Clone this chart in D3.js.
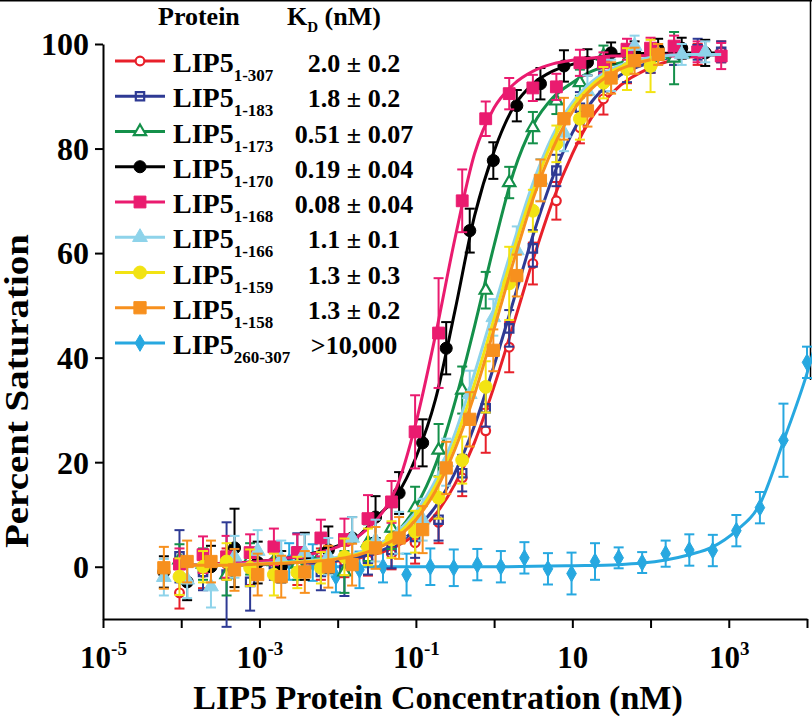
<!DOCTYPE html>
<html><head><meta charset="utf-8">
<script src="https://cdn.jsdelivr.net/npm/d3@7"></script>
<style>
html,body{margin:0;padding:0;background:#fff;}
svg{display:block;}
</style>
</head><body>
<svg id="c" width="812" height="721"></svg>
<script>
// ---------- DATA ----------
const yTicks = [0, 20, 40, 60, 80, 100];
const xTicks = [1e-5, 1e-4, 1e-3, 1e-2, 1e-1, 1, 10, 100, 1000, 10000];
const xTickLabels = [["10","-5"], null, ["10","-3"], null, ["10","-1"], null, ["10",""], null, ["10","3"], null];

// concentration grids (nM), 2-fold dilutions
const concA = [9.5e-5, 1.9e-4, 3.8e-4, 7.6e-4, 0.00153, 0.00305, 0.0061, 0.0122, 0.0244, 0.0488, 0.0977, 0.195, 0.391, 0.781, 1.56, 3.13, 6.25, 12.5, 25, 50, 100, 200, 400, 800];
const concB = [6.0e-5, 1.19e-4, 2.4e-4, 4.8e-4, 9.5e-4, 0.0019, 0.0038, 0.0076, 0.0153, 0.0305, 0.061, 0.122, 0.244, 0.488, 0.977, 1.95, 3.91, 7.81, 15.6, 31.3, 62.5, 125, 250, 500];
const concC = [0.0024, 0.0048, 0.0095, 0.019, 0.038, 0.076, 0.153, 0.305, 0.61, 1.22, 2.44, 4.88, 9.77, 19.5, 39.1, 78.1, 156, 313, 625, 1250, 2500, 5000, 10000];

const labels = ["1-307", "1-183", "1-173", "1-170", "1-168", "1-166", "1-159", "1-158", "260-307"];
const kdText = ["2.0 \u00b1 0.2", "1.8 \u00b1 0.2", "0.51 \u00b1 0.07", "0.19 \u00b1 0.04", "0.08 \u00b1 0.04", "1.1 \u00b1 0.1", "1.3 \u00b1 0.3", "1.3 \u00b1 0.2", ">10,000"];

// percent saturation values and error bars
const v1_307 = [-5.0, -1.1, 0.5, -0.5, 1.0, -0.5, 0.5, 1.0, 1.3, 2.5, 4.6, 8.5, 17.0, 26.0, 42.0, 58.0, 70.0, 84.0, 89.5, 95.0, 97.0, 98.0, 98.0, 98.5];
const e1_307 = [3, 3, 3, 3, 3, 3, 3, 3, 3, 3, 4, 4, 3.5, 4.2, 4.8, 4, 3.6, 3, 3, 2.5, 2.5, 2, 2, 2];
const v1_183 = [2.0, -1.0, -1.5, -2.9, 0.5, 2.9, -1.0, -0.6, 1.5, 3.2, 5.7, 9.0, 17.9, 30.3, 45.6, 60.9, 75.8, 87.8, 93.9, 95.2, 97.0, 98.0, 99.0, 98.5];
const e1_183 = [5, 3.5, 10, 5.5, 3, 3.5, 3.5, 5, 3, 3.5, 4, 4, 3.5, 3.5, 3.5, 3.5, 3, 3, 3, 2.5, 2.5, 2, 2, 2];
const v1_173 = [1.3, 0.5, -1.5, 1.5, 1.0, 0.5, 2.3, -1.0, 4.6, 7.4, 11.3, 22.3, 33.8, 52.9, 73.5, 84.0, 89.1, 92.6, 97.7, 96.8, 97.5, 97.3];
const e1_173 = [3, 3, 4, 3, 3, 3, 3, 4, 3.5, 4, 4, 5, 4.5, 3.5, 3, 3, 2.5, 2.5, 2, 2, 2.5, 5];
const v1_170 = [-1.0, -2.9, 0.0, 3.6, 0.8, 0.0, 2.0, 3.2, 5.5, 9.5, 14.1, 23.7, 41.8, 64.3, 77.7, 88.2, 92.4, 95.8, 96.5, 98.3, 98.5, 99.0, 99.2, 98.3];
const e1_170 = [3, 3.5, 4, 7.5, 4, 3, 4.5, 4.5, 4, 4, 4, 4.5, 5, 4.2, 3.5, 3, 3, 3, 2.5, 2, 2, 2, 2, 2.5];
const v1_168 = [0.5, 2.3, 1.9, 2.7, 3.8, 2.7, 5.5, 5.2, 9.2, 12.4, 25.8, 44.7, 70.0, 85.7, 90.5, 91.6, 91.8, 96.4, 96.4, 99.0, 99.2, 99.6, 98.5, 97.7];
const e1_168 = [3, 3.5, 4, 3.5, 3.5, 3.5, 3.5, 4, 4.5, 4, 7, 10.5, 6, 3.3, 3, 2.5, 2.5, 2.5, 2, 2, 2, 2, 2, 2.5];
const v1_166 = [-2.0, -2.5, -3.8, 1.9, 3.0, 1.5, 2.7, 2.0, 5.5, 5.0, 6.5, 9.0, 20.0, 33.0, 47.7, 60.5, 74.0, 83.0, 91.0, 94.0, 99.6, 98.0, 98.0, 98.5];
const e1_166 = [3.5, 3.5, 4, 4, 4, 3.5, 3.5, 3.5, 4, 4, 4, 4, 4.5, 4.5, 3.5, 4.6, 4, 3.5, 3, 3, 2, 2, 2, 2];
const v1_159 = [-1.9, 0.0, 1.0, -0.2, -1.5, -1.1, -0.2, 1.9, 3.8, 5.2, 6.7, 13.2, 20.4, 34.4, 54.2, 68.1, 80.9, 85.7, 92.6, 95.2, 95.8];
const e1_159 = [3.5, 3, 3.5, 3.5, 4, 3, 3, 3.5, 3.5, 3.5, 4, 4, 4.5, 4.9, 7, 4, 3.5, 4, 3, 4, 5];
const v1_158 = [-0.2, 1.0, 1.0, -0.6, -1.5, -1.9, -1.0, 0.0, 0.4, 3.6, 5.5, 7.1, 18.9, 28.2, 41.4, 55.7, 73.9, 85.7, 87.2, 93.5, 96.8, 98.0];
const e1_158 = [4, 4, 4, 4, 4, 4, 4, 4, 4, 4, 4, 4.5, 5, 5.2, 4, 4, 4, 4, 3, 3, 2.5, 2];
const v260_307 = [1.0, 0.8, -1.9, -0.6, 0.0, -1.5, 0.0, -0.2, 0.4, 0.0, 1.7, -0.4, -1.3, 1.0, 1.7, 0.8, 2.5, 3.2, 3.1, 6.9, 11.3, 24.2, 39.1];
const e260_307 = [3.5, 3.5, 3, 3.5, 3, 4, 3.5, 3.5, 3, 3, 3, 3, 4, 3.5, 2, 2, 2.5, 3, 3, 3, 3, 7, 3];

// fitted curves at these concentrations
const fitConc = [1e-4, 3.16e-4, 1e-3, 3.16e-3, 0.01, 0.0178, 0.0316, 0.0562, 0.1, 0.178, 0.316, 0.562, 1, 1.78, 3.16, 5.62, 10, 17.8, 31.6, 100, 316, 800];
const f1_307 = [0.2, 0.3, 0.4, 0.6, 1.1, 1.6, 2.5, 3.9, 6.3, 10.0, 15.8, 23.8, 34.5, 46.5, 58.8, 70.0, 79.0, 86.0, 90.5, 95.5, 97.5, 98.0];
const f1_183 = [0.2, 0.3, 0.4, 0.7, 1.2, 1.8, 2.8, 4.4, 7.2, 11.5, 18.0, 27.0, 38.5, 51.0, 63.5, 74.5, 83.0, 89.0, 92.8, 96.5, 97.8, 98.0];
const f1_173 = [0.3, 0.4, 0.6, 1.0, 1.6, 2.5, 4.0, 6.5, 11.5, 19.5, 31.5, 46.0, 61.5, 75.5, 84.5, 89.7, 92.6, 94.8, 96.0, 97.2, 97.5];
const f1_170 = [0.3, 0.6, 1.0, 2.0, 4.0, 5.7, 9.5, 13.5, 20.9, 32.0, 49.0, 67.1, 79.5, 88.0, 92.4, 94.8, 96.1, 97.1, 97.9, 98.2, 98.3, 98.3];
const f1_168 = [0.3, 0.6, 1.0, 2.0, 3.8, 5.7, 9.0, 15.0, 27.5, 44.3, 62.8, 79.0, 87.8, 92.3, 94.8, 96.2, 96.9, 97.3, 97.7, 97.8, 98.0, 98.0];
const f1_166 = [0.3, 0.4, 0.6, 1.0, 1.8, 2.6, 4.1, 6.5, 10.5, 16.5, 25.5, 37.0, 49.5, 62.0, 73.5, 82.5, 88.8, 92.8, 95.2, 97.4, 98.0, 98.0];
const f1_159 = [0.3, 0.3, 0.5, 0.9, 1.6, 2.4, 3.8, 6.0, 9.8, 15.5, 24.0, 35.0, 47.5, 60.5, 72.0, 81.5, 88.0, 92.2, 94.8, 97.0];
const f1_158 = [0.3, 0.3, 0.5, 0.8, 1.5, 2.2, 3.5, 5.5, 9.0, 14.5, 22.5, 33.0, 45.5, 58.5, 70.5, 80.0, 87.0, 91.5, 94.3, 97.0];
const fitConcC = [0.0024, 1, 10, 39, 78, 156, 313, 625, 1250, 2500, 5000, 10000, 12000];
const f260_307 = [0, 0, 0.2, 0.4, 0.7, 1.3, 2.3, 3.8, 6.9, 12.0, 24.0, 37.0, 41.0];

const colors = ["#e8202a", "#2e3a94", "#14904a", "#000000", "#ea1b6f", "#8ed3ea", "#f2e313", "#f7901e", "#27a8e0"];

// ---------- BUILD ----------
const FONT = "'Liberation Serif', 'Times New Roman', Times, 'DejaVu Serif', serif";
const series = [
  {c: concA, v: v1_307, e: e1_307, fx: fitConc, f: f1_307, sym: d3.symbolCircle, size: 60, open: true},
  {c: concA, v: v1_183, e: e1_183, fx: fitConc, f: f1_183, sym: d3.symbolSquare, size: 70, open: true, hollow: true},
  {c: concA, v: v1_173, e: e1_173, fx: fitConc, f: f1_173, sym: d3.symbolTriangle, size: 65, open: true},
  {c: concB, v: v1_170, e: e1_170, fx: fitConc, f: f1_170, sym: d3.symbolCircle, size: 115},
  {c: concA, v: v1_168, e: e1_168, fx: fitConc, f: f1_168, sym: d3.symbolSquare, size: 140},
  {c: concB, v: v1_166, e: e1_166, fx: fitConc, f: f1_166, sym: d3.symbolTriangle, size: 95},
  {c: concA, v: v1_159, e: e1_159, fx: fitConc, f: f1_159, sym: d3.symbolCircle, size: 130},
  {c: concB, v: v1_158, e: e1_158, fx: fitConc, f: f1_158, sym: d3.symbolSquare, size: 150},
  {c: concC, v: v260_307, e: e260_307, fx: fitConcC, f: f260_307, sym: d3.symbolDiamond, size: 80}
];
series.forEach((s, i) => { s.color = colors[i]; s.label = labels[i]; s.kd = kdText[i]; });

const svg = d3.select("#c");
const x = d3.scaleLog().domain([1e-5, 1e4]).range([103, 807]);
const y = d3.scaleLinear().domain([-10, 100]).range([619, 44]);

function styleText(sel) {
  return sel.style("font-family", FONT).style("font-weight", "bold").attr("fill", "#000");
}

// frame
svg.append("line").attr("x1", 0).attr("x2", 812).attr("y1", 0.75).attr("y2", 0.75).attr("stroke", "#000").attr("stroke-width", 1.5);
svg.append("line").attr("x1", 810.5).attr("x2", 810.5).attr("y1", 0).attr("y2", 380).attr("stroke", "#000").attr("stroke-width", 1.5);

// axes
const gy = svg.append("g").attr("transform", "translate(103,0)")
  .call(d3.axisLeft(y).tickValues(yTicks).tickSize(8).tickSizeOuter(0).tickPadding(6).tickFormat(d3.format("d")));
gy.attr("font-family", null).attr("font-size", null);
gy.selectAll("path,line").attr("stroke", "#000").attr("stroke-width", 2);
gy.selectAll("text").attr("dy", "0.34em").style("font-size", "32px").call(styleText);

const gx = svg.append("g").attr("transform", "translate(0,619)")
  .call(d3.axisBottom(x).tickValues(xTicks).tickSize(9).tickSizeOuter(0).tickFormat(""));
gx.attr("font-family", null).attr("font-size", null);
gx.selectAll("path,line").attr("stroke", "#000").attr("stroke-width", 2);
gx.selectAll(".tick").each(function(d, i) {
  const lab = xTickLabels[i];
  if (!lab) return;
  const t = d3.select(this).append("text").attr("y", 49).attr("text-anchor", "middle").style("font-size", "31px").call(styleText);
  t.append("tspan").text(lab[0]);
  if (lab[1]) t.append("tspan").style("font-size", "19px").attr("dy", -13).text(lab[1]);
});

svg.append("text").attr("x", 438).attr("y", 709).attr("text-anchor", "middle").style("font-size", "34px").call(styleText)
  .text("LIP5 Protein Concentration (nM)");
svg.append("text").attr("transform", "translate(28,391) rotate(-90) scale(1.18,1)").attr("text-anchor", "middle").style("font-size", "33px").call(styleText)
  .text("Percent Saturation");

// series
const plot = svg.append("g");
const line = d3.line().x(d => x(d[0])).y(d => y(d[1])).curve(d3.curveMonotoneX);
function marker(sel, s) {
  sel.attr("d", d3.symbol().type(s.sym).size(s.size)())
    .attr("fill", s.open ? (s.hollow ? "none" : "#fff") : s.color)
    .attr("stroke", s.color).attr("stroke-width", s.open ? 2.2 : 1);
}
const drawOrder = [8, 0, 1, 2, 3, 4, 5, 6, 7];
drawOrder.forEach(k => {
  const s = series[k];
  const g = plot.append("g");
  const fitPts = s.f.map((v, i) => [s.fx[i], v]);
  g.append("path").datum(fitPts).attr("d", line).attr("fill", "none").attr("stroke", s.color).attr("stroke-width", 3);
  const pts = s.v.map((v, i) => ({c: s.c[i], v: v, e: s.e[i]}));
  const eb = g.append("g").attr("stroke", s.color).attr("stroke-width", 2);
  pts.forEach(p => {
    const px = x(p.c), y1 = y(p.v + p.e), y2 = y(p.v - p.e);
    eb.append("line").attr("x1", px).attr("x2", px).attr("y1", y1).attr("y2", y2);
    eb.append("line").attr("x1", px - 5).attr("x2", px + 5).attr("y1", y1).attr("y2", y1);
    eb.append("line").attr("x1", px - 5).attr("x2", px + 5).attr("y1", y2).attr("y2", y2);
  });
  g.selectAll("path.m").data(pts).enter().append("path").attr("class", "m")
    .attr("transform", p => `translate(${x(p.c)},${y(p.v)})`)
    .call(sel => marker(sel, s));
});

// legend
const lg = svg.append("g");
lg.append("text").attr("x", 158).attr("y", 25).style("font-size", "26px").call(styleText).text("Protein");
const kh = lg.append("text").attr("x", 287).attr("y", 25).style("font-size", "26px").call(styleText);
kh.append("tspan").text("K");
kh.append("tspan").style("font-size", "15px").attr("dy", 7).text("D");
kh.append("tspan").attr("dy", -7).text(" (nM)");
series.forEach((s, i) => {
  const ry = 61 + i * 35.25;
  const row = lg.append("g");
  row.append("line").attr("x1", 115).attr("x2", 165).attr("y1", ry).attr("y2", ry).attr("stroke", s.color).attr("stroke-width", 3);
  row.append("path").attr("transform", `translate(140,${ry})`).call(sel => marker(sel, s));
  const t = row.append("text").attr("x", 173).attr("y", ry + 11).style("font-size", "28px").call(styleText);
  t.append("tspan").text("LIP5");
  t.append("tspan").style("font-size", "17px").attr("dy", 9).text(s.label);
  row.append("text").attr("x", 354).attr("y", ry + 11).attr("text-anchor", "middle").style("font-size", "26px").call(styleText).text(s.kd);
});
</script>
</body></html>
